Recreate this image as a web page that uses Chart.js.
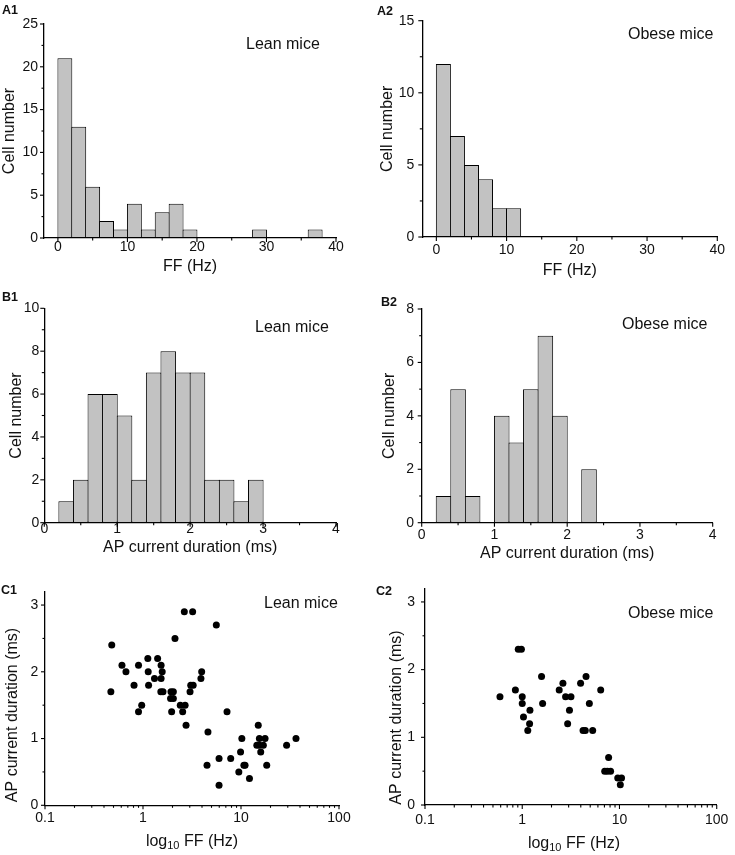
<!DOCTYPE html>
<html><head><meta charset="utf-8">
<script src="https://cdn.jsdelivr.net/npm/chart.js@4.4.1/dist/chart.umd.min.js"></script>
<style>
html,body{margin:0;padding:0;background:#fff;}
body{width:735px;height:855px;position:relative;overflow:hidden;font-family:"Liberation Sans",Arial,sans-serif;color:#111;}
canvas{position:absolute;}
.lbl{position:absolute;font-weight:bold;font-size:12.5px;line-height:1;white-space:nowrap;}
.note{position:absolute;font-size:16px;line-height:1;white-space:nowrap;}
</style></head><body>
<canvas id="a1" width="365" height="285" style="left:0;top:0"></canvas>
<canvas id="a2" width="370" height="285" style="left:365px;top:0"></canvas>
<canvas id="b1" width="365" height="290" style="left:0;top:280px"></canvas>
<canvas id="b2" width="370" height="290" style="left:365px;top:280px"></canvas>
<canvas id="c1" width="365" height="285" style="left:0;top:570px"></canvas>
<canvas id="c2" width="370" height="285" style="left:365px;top:570px"></canvas>

<div class="lbl" style="left:2px;top:4px">A1</div>
<div class="lbl" style="left:377px;top:5px">A2</div>
<div class="lbl" style="left:2px;top:290.5px">B1</div>
<div class="lbl" style="left:381px;top:296px">B2</div>
<div class="lbl" style="left:1px;top:583.5px">C1</div>
<div class="lbl" style="left:376px;top:585px">C2</div>

<div class="note" style="left:246px;top:36px">Lean mice</div>
<div class="note" style="left:628px;top:26px">Obese mice</div>
<div class="note" style="left:255px;top:319px">Lean mice</div>
<div class="note" style="left:622px;top:316px">Obese mice</div>
<div class="note" style="left:264px;top:595px">Lean mice</div>
<div class="note" style="left:628px;top:605px">Obese mice</div>

<script>
// ---------- DATA ----------
// A: firing frequency histograms (bin width 2 Hz, bin centres)
const A1_BIN_CENTERS = [1,3,5,7,9,11,13,15,17,19,21,23,25,27,29,31,33,35,37];
const A1_COUNTS      = [21,13,6,2,1,4,1,3,4,1,0,0,0,0,1,0,0,0,1];
const A2_BIN_CENTERS = [1,3,5,7,9,11];
const A2_COUNTS      = [12,7,5,4,2,2];

// B: AP current duration histograms (bin width 0.2 ms, bin centres)
const B1_BIN_CENTERS = [0.3,0.5,0.7,0.9,1.1,1.3,1.5,1.7,1.9,2.1,2.3,2.5,2.7,2.9];
const B1_COUNTS      = [1,2,6,6,5,2,7,8,7,7,2,2,1,2];
const B2_BIN_CENTERS = [0.3,0.5,0.7,0.9,1.1,1.3,1.5,1.7,1.9,2.1,2.3];
const B2_COUNTS      = [1,5,1,0,4,3,5,7,4,0,2];

// C: scatter FF (Hz) vs AP current duration (ms)
const C1_FF  = [0.48,0.47,0.61,0.67,0.81,0.90,0.97,0.90,1.12,1.13,1.14,1.31,1.41,1.53,1.57,1.53,1.52,1.60,1.93,2.04,1.91,2.04,1.96,2.40,2.69,2.54,2.75,3.02,3.07,3.25,3.97,3.90,4.6,4.5,2.12,2.64,3.21,5.6,5.97,5.97,7.2,7.85,15.0,10.2,9.9,9.5,11.0,10.7,12.2,15.4,17.6,14.5,16.9,15.4,15.9,18.3,29.2,36.4];
const C1_DUR = [2.4,1.7,2.1,2.0,1.8,2.1,1.5,1.4,2.2,2.0,1.8,1.9,2.2,2.1,2.0,1.9,1.7,1.7,1.7,1.7,1.6,1.6,1.4,1.5,1.5,1.4,1.2,1.7,1.8,1.8,2.0,1.9,1.1,0.6,2.5,2.9,2.9,2.7,0.7,0.3,1.4,0.7,1.2,1.0,0.8,0.5,0.6,0.6,0.4,1.0,1.0,0.9,0.9,0.9,0.8,0.6,0.9,1.0];
const C2_FF  = [0.59,0.85,0.91,0.98,1.00,1.00,1.20,1.03,1.19,1.14,1.58,1.62,2.40,2.62,2.79,3.17,3.06,2.93,3.98,4.53,4.9,6.41,4.22,4.45,5.3,7.73,7.05,7.5,8.1,9.6,10.5,10.2];
const C2_DUR = [1.6,1.7,2.3,2.3,1.6,1.5,1.4,1.3,1.2,1.1,1.9,1.5,1.7,1.8,1.6,1.6,1.4,1.2,1.8,1.9,1.5,1.7,1.1,1.1,1.1,0.7,0.5,0.5,0.5,0.4,0.4,0.3];

// Tick values
const A1_X_TICKS = [0,10,20,30,40], A1_X_MINOR = [5,15,25,35];
const A1_Y_TICKS = [0,5,10,15,20,25], A1_Y_MINOR = [2.5,7.5,12.5,17.5,22.5];
const A2_X_TICKS = [0,10,20,30,40], A2_X_MINOR = [5,15,25,35];
const A2_Y_TICKS = [0,5,10,15], A2_Y_MINOR = [2.5,7.5,12.5];
const B_X_TICKS = [0,1,2,3,4], B_X_MINOR = [0.5,1.5,2.5,3.5];
const B1_Y_TICKS = [0,2,4,6,8,10], B1_Y_MINOR = [1,3,5,7,9];
const B2_Y_TICKS = [0,2,4,6,8], B2_Y_MINOR = [1,3,5,7];
const C_X_TICKS = [0.1,1,10,100];
const C_X_MINOR = [0.2,0.3,0.4,0.5,0.6,0.7,0.8,0.9,2,3,4,5,6,7,8,9,20,30,40,50,60,70,80,90];
const C_Y_TICKS = [0,1,2,3], C_Y_MINOR = [0.5,1.5,2.5];

// ---------- STYLE / HELPERS ----------
const FONT = "'Liberation Sans', Arial, sans-serif";
const INK = '#111';
const BAR_FILL = '#c2c2c2';

function axis(o){
  return {
    type: o.type || 'linear', min: o.min, max: o.max, offset: false,
    grid: {display:false, drawTicks:false, tickLength:0},
    border: {display:true, color:'#000', width:1.3},
    ticks: {autoSkip:false, maxRotation:0, minRotation:0, padding:o.pad, color:INK,
            font:{family:FONT, size:14}, callback:(v)=>String(v)},
    afterBuildTicks: (s)=>{ s.ticks = o.major.map(v=>({value:v})); },
    afterFit: (s)=>{ if (s.isHorizontal()) s.height = o.size; else s.width = o.size; },
    title: o.title ? {display:true, text:o.title, color:INK, font:{family:FONT,size:16},
                      padding:o.tpad} : {display:false}
  };
}

function tickPlugin(xMinor, yMinor){
  return {
    id:'tickMarks',
    afterDraw(chart){
      const ctx = chart.ctx; ctx.save(); ctx.strokeStyle='#000'; ctx.lineWidth=1.1;
      const sx = chart.scales.x, sy = chart.scales.y;
      const dx = (v,len)=>{ const p = sx.getPixelForValue(v); ctx.beginPath(); ctx.moveTo(p, sx.top); ctx.lineTo(p, sx.top+len); ctx.stroke(); };
      const dy = (v,len)=>{ const p = sy.getPixelForValue(v); ctx.beginPath(); ctx.moveTo(sy.right, p); ctx.lineTo(sy.right-len, p); ctx.stroke(); };
      sx.ticks.forEach(t=>dx(t.value,4)); xMinor.forEach(v=>dx(v,2.5));
      sy.ticks.forEach(t=>dy(t.value,4)); yMinor.forEach(v=>dy(v,2.5));
      ctx.restore();
    }
  };
}

function textPlugin(items){
  return {
    id:'extraText',
    afterDraw(chart){
      const ctx = chart.ctx;
      items.forEach(it=>{
        ctx.save(); ctx.translate(it.x, it.y); if (it.rot) ctx.rotate(it.rot);
        ctx.fillStyle = INK; ctx.textBaseline='middle'; ctx.textAlign='left';
        let total = 0;
        it.parts.forEach(p=>{ ctx.font = p.size+'px '+FONT; p.w = ctx.measureText(p.t).width; total += p.w; });
        let x = -total/2;
        it.parts.forEach(p=>{ ctx.font = p.size+'px '+FONT; ctx.fillText(p.t, x, p.dy||0); x += p.w; });
        ctx.restore();
      });
    }
  };
}

function hist(id, centers, counts, c){
  new Chart(document.getElementById(id), {
    type:'bar',
    data:{datasets:[{
      data: centers.map((x,i)=>({x:x, y:counts[i]})),
      backgroundColor: BAR_FILL, borderColor:'#000',
      borderWidth: (ctx)=> (ctx.raw && ctx.raw.y) ? 1 : 0,
      borderSkipped:false, barPercentage:1.07, categoryPercentage:1
    }]},
    options:{
      responsive:false, animation:false, devicePixelRatio:1,
      layout:{padding:{top:c.padTop, right:c.padRight, left:0, bottom:0}},
      plugins:{legend:{display:false}, tooltip:{enabled:false}},
      scales:{
        x: axis({min:c.xmin, max:c.xmax, major:c.xTicks, pad:c.xPad, size:c.xH, title:c.xTitle, tpad:{top:0,bottom:c.xTpad}}),
        y: axis({min:0, max:c.ymax, major:c.yTicks, pad:c.yPad, size:c.yW, title:'Cell number', tpad:{top:c.yTpad,bottom:0}})
      }
    },
    plugins:[tickPlugin(c.xMinor, c.yMinor)]
  });
}

function scatter(id, ff, dur, c){
  const items = [
    {x:c.yTx, y:c.yTy, rot:-Math.PI/2, parts:[{t:'AP current duration (ms)', size:16}]},
    {x:c.xTx, y:c.xTy, parts:[{t:'log', size:16},{t:'10', size:11, dy:4.5},{t:' FF (Hz)', size:16}]}
  ];
  new Chart(document.getElementById(id), {
    type:'scatter',
    data:{datasets:[{
      data: ff.map((x,i)=>({x:x, y:dur[i]})),
      pointRadius:3.5, pointBackgroundColor:'#000', pointBorderWidth:0, pointHoverRadius:3.5
    }]},
    options:{
      responsive:false, animation:false, devicePixelRatio:1,
      layout:{padding:{top:c.padTop, right:c.padRight, left:0, bottom:0}},
      plugins:{legend:{display:false}, tooltip:{enabled:false}},
      scales:{
        x: axis({type:'logarithmic', min:0.1, max:100, major:C_X_TICKS, pad:c.xPad, size:c.xH}),
        y: axis({min:0, max:3.2, major:C_Y_TICKS, pad:c.yPad, size:c.yW})
      }
    },
    plugins:[tickPlugin(C_X_MINOR, C_Y_MINOR), textPlugin(items)]
  });
}

hist('a1', A1_BIN_CENTERS, A1_COUNTS, {xmin:-2, xmax:40, ymax:25, xTicks:A1_X_TICKS, yTicks:A1_Y_TICKS,
  xMinor:A1_X_MINOR, yMinor:A1_Y_MINOR, padTop:24, padRight:29, yW:44, xH:47, yPad:6, yTpad:0,
  xPad:1.1, xTpad:8.4, xTitle:'FF (Hz)'});
hist('a2', A2_BIN_CENTERS, A2_COUNTS, {xmin:-2, xmax:40, ymax:15, xTicks:A2_X_TICKS, yTicks:A2_Y_TICKS,
  xMinor:A2_X_MINOR, yMinor:A2_Y_MINOR, padTop:20.7, padRight:17.7, yW:57.3, xH:48, yPad:8, yTpad:13.4,
  xPad:4.6, xTpad:4.6, xTitle:'FF (Hz)'});
hist('b1', B1_BIN_CENTERS, B1_COUNTS, {xmin:0, xmax:4, ymax:10, xTicks:B_X_TICKS, yTicks:B1_Y_TICKS,
  xMinor:B_X_MINOR, yMinor:B1_Y_MINOR, padTop:28.3, padRight:29, yW:44.3, xH:47.3, yPad:5, yTpad:6.7,
  xPad:-1.8, xTpad:12.9, xTitle:'AP current duration (ms)'});
hist('b2', B2_BIN_CENTERS, B2_COUNTS, {xmin:0, xmax:4, ymax:8, xTicks:B_X_TICKS, yTicks:B2_Y_TICKS,
  xMinor:B_X_MINOR, yMinor:B2_Y_MINOR, padTop:29, padRight:22.3, yW:56.7, xH:47.3, yPad:7.7, yTpad:14.6,
  xPad:4.4, xTpad:6.4, xTitle:'AP current duration (ms)'});
scatter('c1', C1_FF, C1_DUR, {padTop:21.7, padRight:26, yW:45, xH:49.7, yPad:6.7, xPad:4.6,
  yTx:12.5, yTy:145, xTx:192, xTy:271.7});
scatter('c2', C2_FF, C2_DUR, {padTop:16.7, padRight:12.3, yW:60, xH:50, yPad:10, xPad:6.6,
  yTx:31.7, yTy:147.5, xTx:209, xTy:273.3});
</script>
</body></html>
